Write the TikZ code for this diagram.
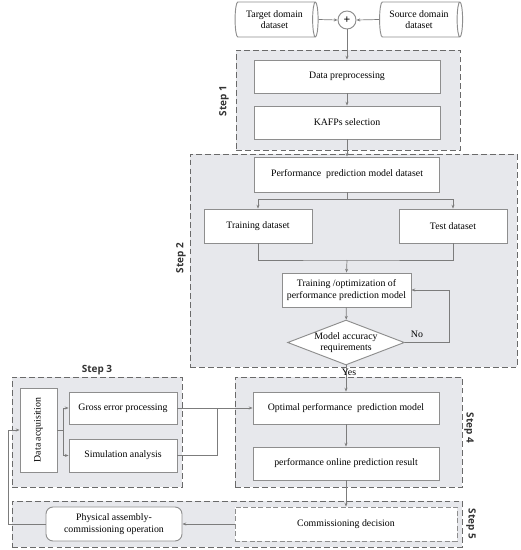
\documentclass[tikz,border=0pt]{standalone}
\usepackage{fontspec}
\setmainfont{Liberation Serif}
\newfontfamily\stepfont{Open Sans}
\usetikzlibrary{shapes.geometric, arrows.meta, positioning, fit, backgrounds, calc}
\definecolor{platefill}{HTML}{E7E8EC}
\definecolor{platedash}{HTML}{6A6A6A}
\definecolor{boxline}{HTML}{8E8E8E}
\definecolor{linkgray}{HTML}{7C7C7C}
\tikzset{
  box/.style   = {rectangle, draw=boxline, fill=white, thick, align=center,
                  inner sep=1pt, font=\fontsize{8.4}{10}\selectfont},
  dbase/.style = {cylinder, draw=boxline, fill=white, thick, align=center,
                  aspect=0.26, inner sep=1pt, minimum width=1.05cm, minimum height=2.49cm,
                  font=\fontsize{8.4}{10}\selectfont},
  cond/.style  = {diamond, draw=boxline, fill=white, thick, align=center, aspect=2.6,
                  inner sep=0pt, font=\fontsize{8.4}{10}\selectfont},
  plate/.style = {draw=platedash, fill=platefill, dashed, dash pattern=on 5pt off 2.6pt,
                  line width=0.8pt, inner sep=0pt},
  steptag/.style = {font=\stepfont\bfseries\fontsize{8.5}{10}\selectfont, text=black!80},
  note/.style  = {font=\fontsize{8.4}{10}\selectfont},
  arr/.style   = {-{Stealth[length=3.2pt,width=2.6pt]}, draw=linkgray, line width=0.6pt},
  link/.style  = {draw=linkgray, line width=0.6pt},
}

\begin{document}
\begin{tikzpicture}[x=0.03cm, y=-0.03cm]
  \useasboundingbox (0,0) rectangle (520,550);

  % -- step plates ------------------------------------------------
  \begin{pgfonlayer}{background}
    \node[plate, fit={(236,50) (460,150)}]  (S1plate) {};
    \node[plate, fit={(190,154) (517,367)}] (S2plate) {};
    \node[plate, fit={(12,377) (182,487)}]  (S3plate) {};
    \node[plate, fit={(235,377) (462,487)}] (S4plate) {};
    \node[plate, fit={(12,501) (462,547)}]  (S5plate) {};
  \end{pgfonlayer}

  \node[steptag, rotate=90]  (S1tag) at (224,101) {Step 1};
  \node[steptag, rotate=90]  (S2tag) at (181,258) {Step 2};
  \node[steptag]             (S3tag) at (97,370)  {Step 3};
  \node[steptag, rotate=-90] (S4tag) at (469,428) {Step 4};
  \node[steptag, rotate=-90] (S5tag) at (471,524) {Step 5};

  % -- source data ------------------------------------------------
  \node[dbase, shape border rotate=0] (target) at (274.5,19.5) {Target domain\\dataset};
  \node[dbase, shape border rotate=0] (source) at (419,19.5)   {Source domain\\dataset};
  \node[circle, draw=boxline, fill=white, thick, minimum size=0.54cm, inner sep=0pt,
        font=\bfseries] (merge) at (347,20) {+};

  % -- step 1 -----------------------------------------------------
  \node[box, minimum width=5.58cm, minimum height=0.99cm] (prep) at (347,76.5)  {Data preprocessing};
  \node[box, minimum width=5.58cm, minimum height=0.99cm] (kafp) at (347,122.5) {KAFPs selection};

  % -- step 2 -----------------------------------------------------
  \node[box, minimum width=5.55cm, minimum height=1.05cm] (pmdata) at (347,174.5) {Performance~ prediction model dataset};
  \node[box, minimum width=3.24cm, minimum height=1.02cm] (train)  at (258,226) {Training dataset};
  \node[box, minimum width=3.24cm, minimum height=1.02cm] (test)   at (453,226) {Test dataset};
  \node[box, minimum width=3.87cm, minimum height=1.02cm] (topt)   at (346.5,290) {Training /optimization of\\performance prediction model};
  \node[cond, minimum width=3.12cm, minimum height=1.2cm] (acc)    at (346,342.5) {Model accuracy\\requirements};

  % -- step 3 -----------------------------------------------------
  \node[box, rotate=90, minimum width=2.52cm, minimum height=1.11cm] (acq) at (38.5,430) {Data acquisition};
  \node[box, minimum width=3.24cm, minimum height=0.96cm] (gross) at (123,408)   {Gross error processing};
  \node[box, minimum width=3.24cm, minimum height=0.99cm] (sim)   at (123,455.5) {Simulation analysis};

  % -- step 4 -----------------------------------------------------
  \node[box, minimum width=5.58cm, minimum height=0.96cm] (optm)   at (346,408)   {Optimal performance~ prediction model};
  \node[box, minimum width=5.58cm, minimum height=0.99cm] (online) at (346,463.5) {performance online prediction result};

  % -- step 5 -----------------------------------------------------
  \node[box, rounded corners=6pt, minimum width=4.08cm, minimum height=1.02cm] (phys) at (114,524)
    {Physical assembly-\\commissioning operation};
  \node[box, dashed, dash pattern=on 4pt off 2.4pt, minimum width=6.66cm, minimum height=1.02cm] (comm) at (346,524)
    {Commissioning decision};

  % -- turning points ---------------------------------------------
  \coordinate (splitC)   at (347,199);
  \coordinate (joinC)    at (347,260);
  \coordinate (noTurn)   at (449,342.5);
  \coordinate (acqFork)  at (63,430);
  \coordinate (simJoin)  at (217,408);
  \coordinate (backTurn) at (8,524);

  % -- arrows -----------------------------------------------------
  \draw[arr] (target.east) -- (merge.west);
  \draw[arr] (source.west) -- (merge.east);
  \draw[arr] (merge.south) -- (prep.north);
  \draw[arr] (prep) -- (kafp);
  \draw[arr] (kafp) -- (pmdata);

  \draw[link] (pmdata.south) -- (splitC);
  \draw[arr]  (splitC) -| (train.north);
  \draw[arr]  (splitC) -| (test.north);
  \draw[link] (train.south) |- (joinC) -| (test.south);
  \draw[arr]  (joinC) -- (topt.north);
  \draw[arr]  (topt) -- (acc);

  \draw[arr] (acc.east) -- (noTurn) |- (topt.east);
  \node[note] (nolbl) at (417,334) {No};
  \draw[arr] (acc.south) -- (optm.north);
  \node[note] (yeslbl) at (349,372) {Yes};

  \draw[link] (acq.south) -- (acqFork);
  \draw[arr]  (acqFork) |- (gross.west);
  \draw[arr]  (acqFork) |- (sim.west);
  \draw[arr]  (gross.east) -- (optm.west);
  \draw[link] (sim.east) -| (simJoin);

  \draw[arr] (optm) -- (online);
  \draw[arr] (online) -- (comm);
  \draw[arr] (comm.west) -- (phys.east);
  \draw[arr] (phys.west) -- (backTurn) |- (acq.north);

\end{tikzpicture}
\end{document}
